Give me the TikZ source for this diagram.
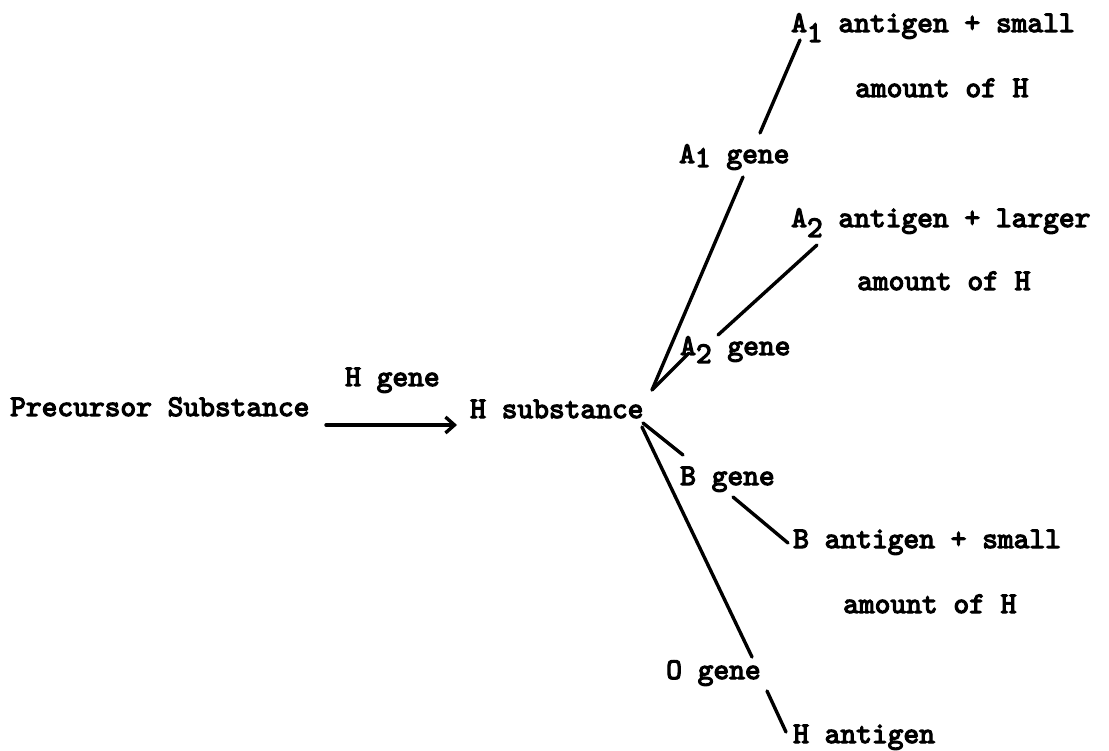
\documentclass[tikz,border=0pt]{standalone}
\usepackage{fontspec}
\usetikzlibrary{calc,arrows.meta}
\newfontfamily\twfont{lmmono10-regular.otf}[FakeBold=4]
\newcommand{\lowr}[2]{\raisebox{-#1pt}{#2}}
\begin{document}
\begin{tikzpicture}[x=1pt,y=-1pt,
  lbl/.style={anchor=base west,inner sep=0pt,font=\twfont\fontsize{30}{36}\selectfont},
  conn/.style={line width=3.4pt,line cap=round}]
\useasboundingbox[fill=white] (0,0) rectangle (1109,751);
\node[lbl] (prec)   at (10,416)  {Precursor Substance};
\node[lbl] (hgene)  at (345,386) {H gene};
\node[lbl] (hsub)   at (470,418) {H substance};
\node[lbl] (a1ant)  at (791,32)  {A\lowr{10}{1} antigen + small};
\node[lbl] (a1amt)  at (855,97)  {amount of H};
\node[lbl] (a1gene) at (679,163) {A\lowr{4}{1} gene};
\node[lbl] (a2ant)  at (791,227) {A\lowr{10}{2} antigen + larger};
\node[lbl] (a2amt)  at (857,290) {amount of H};
\node[lbl] (a2gene) at (680,355) {A\lowr{8}{2} gene};
\node[lbl] (bgene)  at (680,485) {B gene};
\node[lbl] (bant)   at (793,548) {B antigen + small};
\node[lbl] (bamt)   at (843,613) {amount of H};
\node[lbl] (ogene)  at (666,679) {O gene};
\node[lbl] (hant)   at (793,743) {H antigen};
\draw[conn,-{Straight Barb[length=9pt,width=16pt,line width=3.4pt]}]
  ($(prec.base west)+(316,9)$) -- ($(hsub.base west)+(-13,7)$);
\draw[conn] ($(a1ant.base west)+(9,8)$) -- ($(a1gene.base west)+(81,-30)$);
\draw[conn] ($(a1gene.base west)+(64,14)$) -- ($(hsub.base west)+(182,-28)$);
\draw[conn] ($(a2ant.base west)+(26,18)$) -- ($(a2gene.base west)+(38,-20)$);
\draw[conn] ($(a2gene.base west)+(9,-2)$) -- ($(hsub.base west)+(182,-28)$);
\draw[conn] ($(hsub.base west)+(173,5)$) -- ($(bgene.base west)+(3,-30)$);
\draw[conn] ($(hsub.base west)+(172,9)$) -- ($(ogene.base west)+(86,-22)$);
\draw[conn] ($(bgene.base west)+(53,12)$) -- ($(bant.base west)+(-5,-5)$);
\draw[conn] ($(ogene.base west)+(101,12)$) -- ($(hant.base west)+(-7,-11)$);
\end{tikzpicture}
\end{document}
